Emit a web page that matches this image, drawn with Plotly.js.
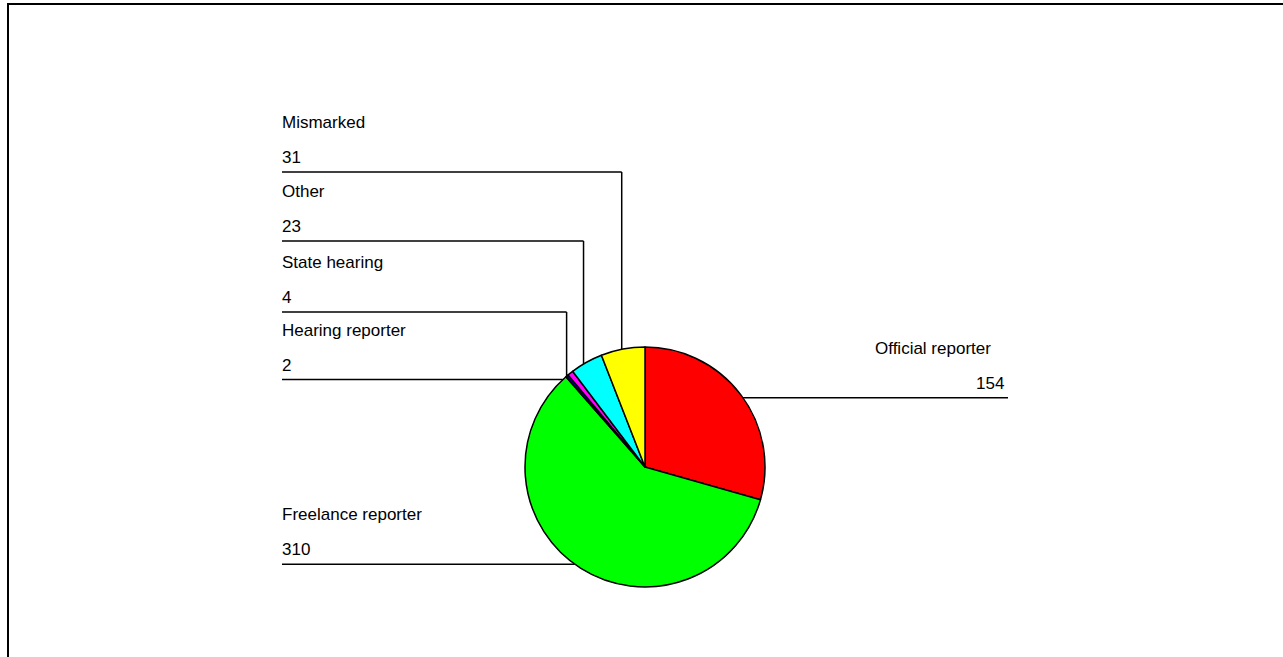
<!DOCTYPE html>
<html>
<head>
<meta charset="utf-8">
<script src="https://cdn.plot.ly/plotly-3.0.1.min.js"></script>
<style>
  html, body { margin: 0; padding: 0; background: #fff; }
  #chart { width: 1283px; height: 657px; }
</style>
</head>
<body>
<div id="chart"></div>
<script>
// ---- data ----
const categories = ['Official reporter', 'Freelance reporter', 'Hearing reporter', 'State hearing', 'Other', 'Mismarked'];
const counts = [154, 310, 2, 4, 23, 31];
const sliceColors = ['#FF0000', '#00FF00', '#000080', '#FF00FF', '#00FFFF', '#FFFF00'];

// ---- layout config (positions, in page pixels) ----
const W = 1283, H = 657;
const pieCX = 645, pieCY = 467, pieR = 120;
// leader-line anchor ellipse (the original pie was slightly oval)
const anchorRX = 126, anchorRY = 115;
const leftX = 282;
const labelPlacement = [
  { style: 'right', nameX: 875, valueX: 1004, lineEnd: 1008 },
  { style: 'left' },
  { style: 'left' },
  { style: 'elbow', lineY: 312 },
  { style: 'elbow', lineY: 241 },
  { style: 'elbow', lineY: 172 }
];
const fontSpec = { family: 'Liberation Sans, Arial, sans-serif', size: 17, color: '#000' };

const px = x => x / W;
const py = y => 1 - y / H;

// slice mid-angles (clockwise from 12 o'clock)
const total = counts.reduce((a, b) => a + b, 0);
let cum = 0;
const midAngles = counts.map(v => {
  const a0 = cum / total * 2 * Math.PI;
  cum += v;
  const a1 = cum / total * 2 * Math.PI;
  return (a0 + a1) / 2;
});

const shapes = [];
const annotations = [];
const lineStyle = { color: '#000', width: 1.5 };

function addText(text, x, baseline, anchor) {
  annotations.push({
    xref: 'paper', yref: 'paper',
    x: px(x), y: py(baseline + 4),
    xanchor: anchor, yanchor: 'bottom',
    text: text, showarrow: false,
    font: fontSpec, borderpad: 0, borderwidth: 0
  });
}
function addLine(x0, y0, x1, y1) {
  shapes.push({ type: 'line', xref: 'paper', yref: 'paper',
    x0: px(x0), y0: py(y0), x1: px(x1), y1: py(y1), line: lineStyle });
}

categories.forEach((name, i) => {
  const p = labelPlacement[i];
  const a = midAngles[i];
  const ex = pieCX + anchorRX * Math.sin(a);
  const ey = pieCY - anchorRY * Math.cos(a);
  if (p.style === 'right' || p.style === 'left') {
    // horizontal leader at anchor height, ending on the pie edge
    const ly = ey;
    const dx = Math.sqrt(Math.max(0, pieR * pieR - (ly - pieCY) * (ly - pieCY)));
    const edgeX = Math.sin(a) >= 0 ? pieCX + dx : pieCX - dx;
    if (p.style === 'right') {
      addLine(edgeX, ly, p.lineEnd, ly);
      addText(name, p.nameX, ly - 44, 'left');
      addText(String(counts[i]), p.valueX, ly - 9, 'right');
    } else {
      addLine(leftX, ly, edgeX, ly);
      addText(name, leftX, ly - 44, 'left');
      addText(String(counts[i]), leftX, ly - 9, 'left');
    }
  } else {
    // elbow: horizontal under the label, then vertical down to the pie edge
    const ly = p.lineY;
    const vx = ex;
    const dy = Math.sqrt(Math.max(0, pieR * pieR - (vx - pieCX) * (vx - pieCX)));
    const edgeY = Math.cos(a) >= 0 ? pieCY - dy : pieCY + dy;
    addLine(leftX, ly, vx, ly);
    addLine(vx, ly, vx, edgeY);
    addText(name, leftX, ly - 44, 'left');
    addText(String(counts[i]), leftX, ly - 9, 'left');
  }
});

// page frame
shapes.push({ type: 'rect', xref: 'paper', yref: 'paper',
  x0: px(8), y0: py(4), x1: px(W + 20), y1: py(H + 20),
  line: { color: '#000', width: 2 }, fillcolor: 'rgba(0,0,0,0)' });

const trace = {
  type: 'pie',
  labels: categories,
  values: counts,
  sort: false,
  direction: 'clockwise',
  rotation: 0,
  textinfo: 'none',
  hoverinfo: 'label+value+percent',
  marker: { colors: sliceColors, line: { color: '#000', width: 1.5 } },
  domain: { x: [px(pieCX - pieR), px(pieCX + pieR)], y: [py(pieCY + pieR), py(pieCY - pieR)] },
  showlegend: false
};

const layout = {
  width: W, height: H,
  margin: { l: 0, r: 0, t: 0, b: 0 },
  paper_bgcolor: '#fff',
  showlegend: false,
  shapes: shapes,
  annotations: annotations,
  font: fontSpec
};

Plotly.newPlot('chart', [trace], layout, { displayModeBar: false, staticPlot: true });
</script>
</body>
</html>
